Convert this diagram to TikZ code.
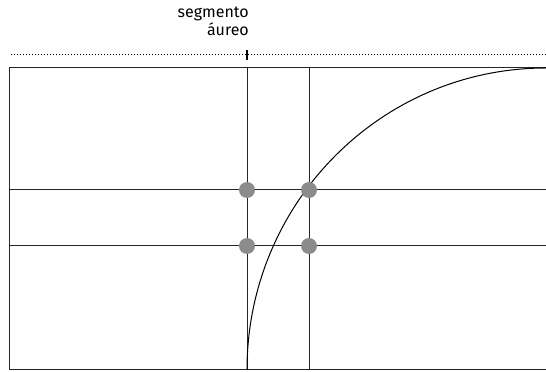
\documentclass[tikz,border=0pt]{standalone}
\usepackage{fontspec}
\setmainfont{Fira Sans}
\begin{document}
\begin{tikzpicture}[x=1pt,y=1pt,
  gridline/.style={line width=1pt, draw=black!85},
  dot/.style={circle, fill=black!45, inner sep=0pt, minimum size=16pt},
  lbl/.style={font=\fontsize{16}{17.5}\selectfont, align=right, inner sep=0pt}]
\useasboundingbox (0,0) rectangle (546,372);
\begin{scope}
\clip (0,0) rectangle (546,372);
% frame
\draw[gridline] (9,2) rectangle (547,304);
% verticals
\draw[gridline] (247,2) -- (247,304);
\draw[gridline] (309,2) -- (309,304);
% horizontals
\draw[gridline] (9,182) -- (547,182);
\draw[gridline] (9,126) -- (547,126);
% arc
\draw[line width=1pt] (247,2) arc[start angle=180, end angle=90, x radius=299, y radius=302];
% dotted measure line
\draw[line width=1pt, dotted] (11,317) -- (546,317);
\draw[line width=1.2pt] (247,312) -- (247,322);
\end{scope}
\node[dot] (d1) at (247,182) {};
\node[dot] (d2) at (309,182) {};
\node[dot] (d3) at (247,126) {};
\node[dot] (d4) at (309,126) {};
\node[lbl, anchor=north east] (t) at (249,365) {segmento\\áureo};
\end{tikzpicture}
\end{document}
